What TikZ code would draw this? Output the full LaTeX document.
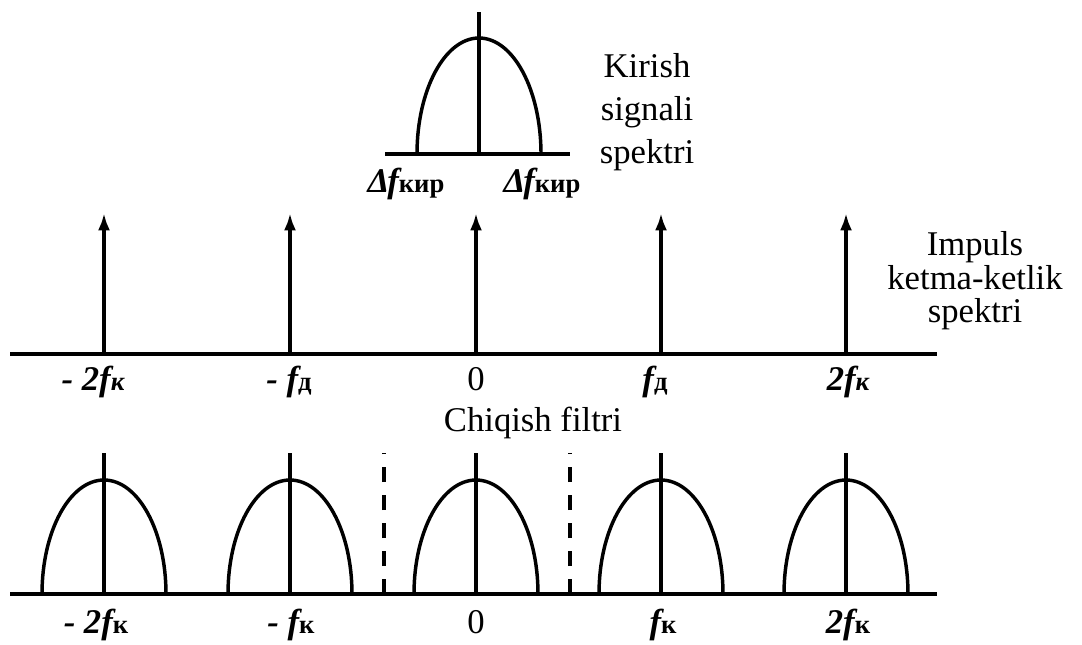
\documentclass[tikz,border=0pt]{standalone}
\usepackage{fontspec}
\setmainfont{Liberation Serif}
\usetikzlibrary{arrows.meta}
\tikzset{
  ln/.style={line width=2.8pt},
  hump/.style={line width=2.6pt},
  imp/.style={line width=2.6pt, -{Latex[length=13pt,width=9pt]}},
  dsh/.style={line width=2.6pt, dash pattern=on 11.25pt off 9.75pt},
  txt/.style={inner sep=0pt, anchor=base, font=\fontsize{26}{30}\selectfont},
  lbl/.style={inner sep=0pt, anchor=base, font=\fontsize{26}{30}\selectfont\bfseries\itshape},
}
\newcommand{\sbu}[1]{{\fontsize{20}{20}\selectfont\upshape #1}}
\newcommand{\sbi}[1]{{\fontsize{20}{20}\selectfont #1}}
\begin{document}
\begin{tikzpicture}[x=0.75pt,y=-0.75pt]
\useasboundingbox (0,0) rectangle (1082,644);

% ---------- top: input spectrum ----------
\coordinate (tL) at (385,154);
\coordinate (tR) at (570,154);
\coordinate (tA0) at (479,154);
\coordinate (tA1) at (479,12);
\coordinate (tF) at (417,154);
\draw[ln] (tL) -- (tR);
\draw[ln] (tA0) -- (tA1);
\draw[hump] (tF) arc[start angle=180, end angle=0, x radius=46.5pt, y radius=87pt];
\node[lbl] (dl) at (406,192) {Δ\kern-1.5pt f\sbu{кир}};
\node[lbl] (dr) at (542,192) {Δ\kern-1.5pt f\sbu{кир}};
\node[txt] (k1) at (647,77) {Kirish};
\node[txt] (k2) at (647,120) {signali};
\node[txt] (k3) at (647,163) {spektri};

% ---------- middle: impulse sequence spectrum ----------
\coordinate (mL) at (10,354);
\coordinate (mR) at (937,354);
\draw[ln] (mL) -- (mR);
\foreach \x [count=\i] in {104,290,476,661,846}{
  \coordinate (mb\i) at (\x,354);
  \coordinate (mt\i) at (\x,213);
  \draw[imp] (mb\i) -- (mt\i);
}
\node[lbl] (m1) at (93,390) {- 2f\sbi{к}};
\node[lbl] (m2) at (289,390) {- f\sbu{д}};
\node[txt] (m3) at (476,390) {0};
\node[lbl] (m4) at (655,390) {f\sbu{д}};
\node[lbl] (m5) at (848,390) {2f\sbi{к}};
\node[txt] (i1) at (975,255) {Impuls};
\node[txt] (i2) at (975,289) {ketma-ketlik};
\node[txt] (i3) at (975,322) {spektri};

\node[txt] (ch) at (533,431) {Chiqish filtri};

% ---------- bottom: output spectrum ----------
\coordinate (bL) at (10,594);
\coordinate (bR) at (937,594);
\draw[ln] (bL) -- (bR);
\foreach \x [count=\i] in {104,290,476,661,846}{
  \coordinate (bb\i) at (\x,594);
  \coordinate (bt\i) at (\x,453);
  \coordinate (bf\i) at (\x-62,594);
  \draw[ln] (bb\i) -- (bt\i);
  \draw[hump] (bf\i) arc[start angle=180, end angle=0, x radius=46.5pt, y radius=85.5pt];
}
\coordinate (d1b) at (384,594);
\coordinate (d1t) at (384,453);
\coordinate (d2b) at (570,594);
\coordinate (d2t) at (570,453);
\draw[dsh] (d1b) -- (d1t);
\draw[dsh] (d2b) -- (d2t);
\node[lbl] (b1) at (96,633) {- 2f\sbu{к}};
\node[lbl] (b2) at (291,633) {- f\sbu{к}};
\node[txt] (b3) at (476,633) {0};
\node[lbl] (b4) at (663,633) {f\sbu{к}};
\node[lbl] (b5) at (848,633) {2f\sbu{к}};
\end{tikzpicture}
\end{document}
